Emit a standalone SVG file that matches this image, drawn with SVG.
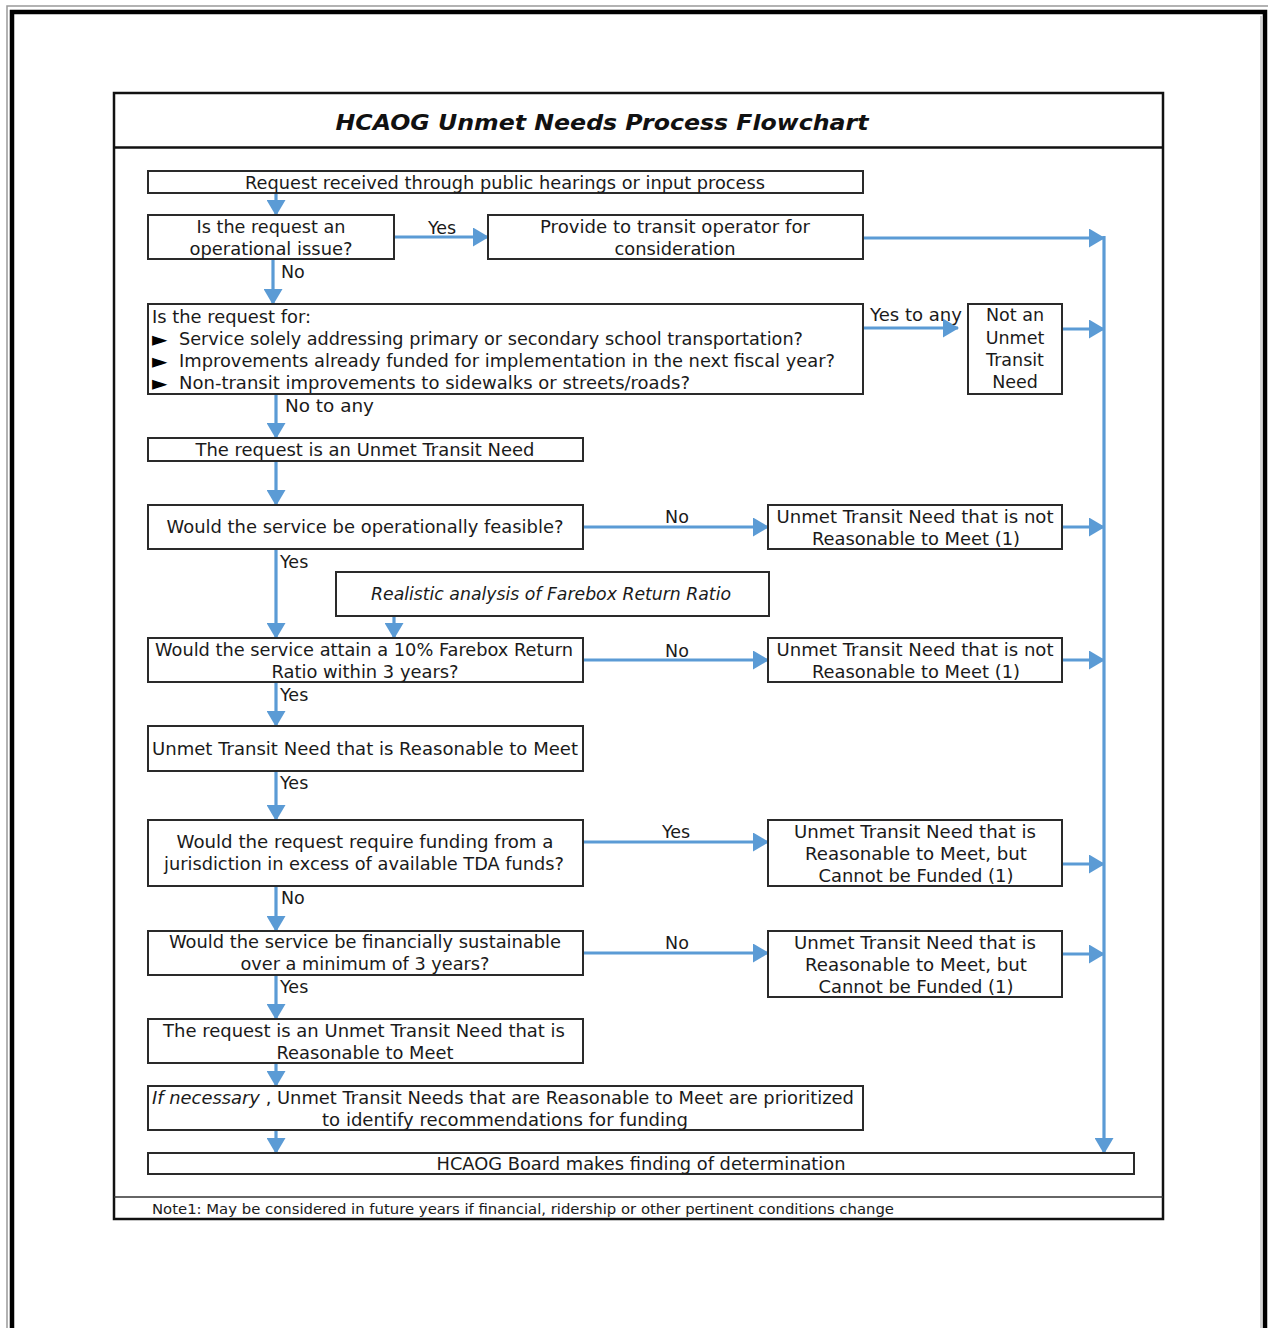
<svg xmlns="http://www.w3.org/2000/svg" width="1268" height="1328" viewBox="0 0 1268 1328">
<defs>
<style>
.t{font-family:"DejaVu Sans","Liberation Sans",sans-serif;font-size:17.5px;fill:#1a1a1a}
.m{text-anchor:middle}
.bul{font-family:"DejaVu Sans","Liberation Sans",sans-serif;font-size:20px;fill:#000}
.b{fill:#fff;stroke:#2a2a2a;stroke-width:2}
.c{fill:none;stroke:#5b9bd5;stroke-width:3.2;marker-end:url(#ah)}
.lab{font-family:"DejaVu Sans","Liberation Sans",sans-serif;font-size:17.5px;fill:#1a1a1a}
</style>
<marker id="ah" viewBox="0 0 16 19" refX="15" refY="9.5" markerWidth="16" markerHeight="19" markerUnits="userSpaceOnUse" orient="auto">
<path d="M0,0 L16,9.5 L0,19 z" fill="#5b9bd5"/>
</marker>
</defs>
<rect width="1268" height="1328" fill="#fff"/>
<g id="page-border">
<path d="M7,1328 V6 H1268" fill="none" stroke="#999" stroke-width="1.5"/>
<path d="M12,1328 V12 H1265 V1328" fill="none" stroke="#000" stroke-width="4.5"/>
<path d="M1261,16 V1328" fill="none" stroke="#aaa" stroke-width="1"/>
</g>
<g id="frame">
<rect x="114" y="93" width="1049" height="1126" fill="none" stroke="#111" stroke-width="2.5"/>
<line x1="114" y1="147.5" x2="1163" y2="147.5" stroke="#111" stroke-width="2.5"/>
<line x1="114" y1="1197" x2="1163" y2="1197" stroke="#333" stroke-width="1.5"/>
<text x="602" y="130" text-anchor="middle" font-family="'DejaVu Sans','Liberation Sans',sans-serif" font-size="22" font-weight="bold" font-style="italic" fill="#111" textLength="533" lengthAdjust="spacingAndGlyphs">HCAOG Unmet Needs Process Flowchart</text>
<text x="152" y="1214" font-family="'DejaVu Sans','Liberation Sans',sans-serif" font-size="13.5" fill="#1a1a1a" textLength="742" lengthAdjust="spacingAndGlyphs">Note1: May be considered in future years if financial, ridership or other pertinent conditions change</text>
</g>
<g id="connectors">
<path class="c" d="M276,193 V215"/>
<path class="c" d="M394,237 H488"/>
<path class="c" d="M273,259 V304"/>
<path class="c" d="M863,238 H1104"/>
<path class="c" d="M863,328 H958"/>
<path class="c" d="M1062,329 H1104"/>
<path class="c" d="M276,394 V438"/>
<path class="c" d="M276,461 V505"/>
<path class="c" d="M583,527 H768"/>
<path class="c" d="M1062,527 H1104"/>
<path class="c" d="M276,549 V638"/>
<path class="c" d="M394,616 V638"/>
<path class="c" d="M583,660 H768"/>
<path class="c" d="M1062,660 H1104"/>
<path class="c" d="M276,682 V726"/>
<path class="c" d="M276,771 V820"/>
<path class="c" d="M583,842 H768"/>
<path class="c" d="M1062,864 H1104"/>
<path class="c" d="M276,886 V931"/>
<path class="c" d="M583,953 H768"/>
<path class="c" d="M1062,954 H1104"/>
<path class="c" d="M276,975 V1019"/>
<path class="c" d="M276,1063 V1086"/>
<path class="c" d="M276,1130 V1153"/>
<path class="c" d="M1104,236 V1153"/>
<text class="lab m" x="442" y="234">Yes</text>
<text class="lab" x="281" y="278">No</text>
<text class="lab" x="870" y="321" textLength="92" lengthAdjust="spacingAndGlyphs">Yes to any</text>
<text class="lab" x="285" y="412" textLength="89" lengthAdjust="spacingAndGlyphs">No to any</text>
<text class="lab m" x="677" y="523">No</text>
<text class="lab" x="280" y="568">Yes</text>
<text class="lab m" x="677" y="657">No</text>
<text class="lab" x="280" y="701">Yes</text>
<text class="lab" x="280" y="789">Yes</text>
<text class="lab m" x="676" y="838">Yes</text>
<text class="lab" x="281" y="904">No</text>
<text class="lab m" x="677" y="949">No</text>
<text class="lab" x="280" y="993">Yes</text>
</g>
<g id="n-request">
<rect class="b" x="148" y="171" width="715" height="22"/>
<text class="t m" x="505" y="188.5" textLength="520" lengthAdjust="spacingAndGlyphs">Request received through public hearings or input process</text>
</g>
<g id="n-operational">
<rect class="b" x="148" y="215" width="246" height="44"/>
<text class="t m" x="271" y="232.5" textLength="149" lengthAdjust="spacingAndGlyphs">Is the request an</text>
<text class="t m" x="271" y="254.5" textLength="163" lengthAdjust="spacingAndGlyphs">operational issue?</text>
</g>
<g id="n-provide">
<rect class="b" x="488" y="215" width="375" height="44"/>
<text class="t m" x="675" y="232.5" textLength="270" lengthAdjust="spacingAndGlyphs">Provide to transit operator for</text>
<text class="t m" x="675" y="254.5" textLength="121" lengthAdjust="spacingAndGlyphs">consideration</text>
</g>
<g id="n-request-for">
<rect class="b" x="148" y="304" width="715" height="90"/>
<text class="t" x="152" y="323" textLength="159" lengthAdjust="spacingAndGlyphs">Is the request for:</text>
<text class="bul" x="152" y="346">►</text>
<text class="t" x="179" y="345" textLength="624" lengthAdjust="spacingAndGlyphs">Service solely addressing primary or secondary school transportation?</text>
<text class="bul" x="152" y="368">►</text>
<text class="t" x="179" y="367" textLength="656" lengthAdjust="spacingAndGlyphs">Improvements already funded for implementation in the next fiscal year?</text>
<text class="bul" x="152" y="390">►</text>
<text class="t" x="179" y="389" textLength="511" lengthAdjust="spacingAndGlyphs">Non-transit improvements to sidewalks or streets/roads?</text>
</g>
<g id="n-not-unmet">
<rect class="b" x="968" y="304" width="94" height="90"/>
<text class="t m" x="1015" y="321">Not an</text>
<text class="t m" x="1015" y="344">Unmet</text>
<text class="t m" x="1015" y="366">Transit</text>
<text class="t m" x="1015" y="388">Need</text>
</g>
<g id="n-unmet-need">
<rect class="b" x="148" y="438" width="435" height="23"/>
<text class="t m" x="365" y="456" textLength="339" lengthAdjust="spacingAndGlyphs">The request is an Unmet Transit Need</text>
</g>
<g id="n-feasible">
<rect class="b" x="148" y="505" width="435" height="44"/>
<text class="t m" x="365" y="533" textLength="397" lengthAdjust="spacingAndGlyphs">Would the service be operationally feasible?</text>
</g>
<g id="n-not-reasonable-1">
<rect class="b" x="768" y="505" width="294" height="44"/>
<text class="t m" x="915" y="523" textLength="277" lengthAdjust="spacingAndGlyphs">Unmet Transit Need that is not</text>
<text class="t m" x="916" y="545" textLength="208" lengthAdjust="spacingAndGlyphs">Reasonable to Meet (1)</text>
</g>
<g id="n-farebox-analysis">
<rect class="b" x="336" y="572" width="433" height="44"/>
<text class="t m" x="551" y="600" font-style="italic" textLength="360" lengthAdjust="spacingAndGlyphs">Realistic analysis of Farebox Return Ratio</text>
</g>
<g id="n-farebox">
<rect class="b" x="148" y="638" width="435" height="44"/>
<text class="t m" x="364" y="656" textLength="418" lengthAdjust="spacingAndGlyphs">Would the service attain a 10% Farebox Return</text>
<text class="t m" x="365" y="678" textLength="187" lengthAdjust="spacingAndGlyphs">Ratio within 3 years?</text>
</g>
<g id="n-not-reasonable-2">
<rect class="b" x="768" y="638" width="294" height="44"/>
<text class="t m" x="915" y="656" textLength="277" lengthAdjust="spacingAndGlyphs">Unmet Transit Need that is not</text>
<text class="t m" x="916" y="678" textLength="208" lengthAdjust="spacingAndGlyphs">Reasonable to Meet (1)</text>
</g>
<g id="n-reasonable">
<rect class="b" x="148" y="726" width="435" height="45"/>
<text class="t m" x="365" y="755" textLength="426" lengthAdjust="spacingAndGlyphs">Unmet Transit Need that is Reasonable to Meet</text>
</g>
<g id="n-tda">
<rect class="b" x="148" y="820" width="435" height="66"/>
<text class="t m" x="365" y="848" textLength="377" lengthAdjust="spacingAndGlyphs">Would the request require funding from a</text>
<text class="t m" x="364" y="870" textLength="400" lengthAdjust="spacingAndGlyphs">jurisdiction in excess of available TDA funds?</text>
</g>
<g id="n-cannot-fund-1">
<rect class="b" x="768" y="820" width="294" height="66"/>
<text class="t m" x="915" y="838" textLength="242" lengthAdjust="spacingAndGlyphs">Unmet Transit Need that is</text>
<text class="t m" x="916" y="860" textLength="222" lengthAdjust="spacingAndGlyphs">Reasonable to Meet, but</text>
<text class="t m" x="916" y="882" textLength="195" lengthAdjust="spacingAndGlyphs">Cannot be Funded (1)</text>
</g>
<g id="n-sustainable">
<rect class="b" x="148" y="931" width="435" height="44"/>
<text class="t m" x="365" y="948" textLength="392" lengthAdjust="spacingAndGlyphs">Would the service be financially sustainable</text>
<text class="t m" x="365" y="970" textLength="249" lengthAdjust="spacingAndGlyphs">over a minimum of 3 years?</text>
</g>
<g id="n-cannot-fund-2">
<rect class="b" x="768" y="931" width="294" height="66"/>
<text class="t m" x="915" y="949" textLength="242" lengthAdjust="spacingAndGlyphs">Unmet Transit Need that is</text>
<text class="t m" x="916" y="971" textLength="222" lengthAdjust="spacingAndGlyphs">Reasonable to Meet, but</text>
<text class="t m" x="916" y="993" textLength="195" lengthAdjust="spacingAndGlyphs">Cannot be Funded (1)</text>
</g>
<g id="n-final-reasonable">
<rect class="b" x="148" y="1019" width="435" height="44"/>
<text class="t m" x="364" y="1037" textLength="402" lengthAdjust="spacingAndGlyphs">The request is an Unmet Transit Need that is</text>
<text class="t m" x="365" y="1059" textLength="177" lengthAdjust="spacingAndGlyphs">Reasonable to Meet</text>
</g>
<g id="n-prioritize">
<rect class="b" x="148" y="1086" width="715" height="44"/>
<text class="t" x="152" y="1104" textLength="702" lengthAdjust="spacingAndGlyphs"><tspan font-style="italic">If necessary</tspan> , Unmet Transit Needs that are Reasonable to Meet are prioritized</text>
<text class="t m" x="505" y="1126" textLength="366" lengthAdjust="spacingAndGlyphs">to identify recommendations for funding</text>
</g>
<g id="n-board">
<rect class="b" x="148" y="1153" width="986" height="21"/>
<text class="t m" x="641" y="1170" textLength="409" lengthAdjust="spacingAndGlyphs">HCAOG Board makes finding of determination</text>
</g>
</svg>
